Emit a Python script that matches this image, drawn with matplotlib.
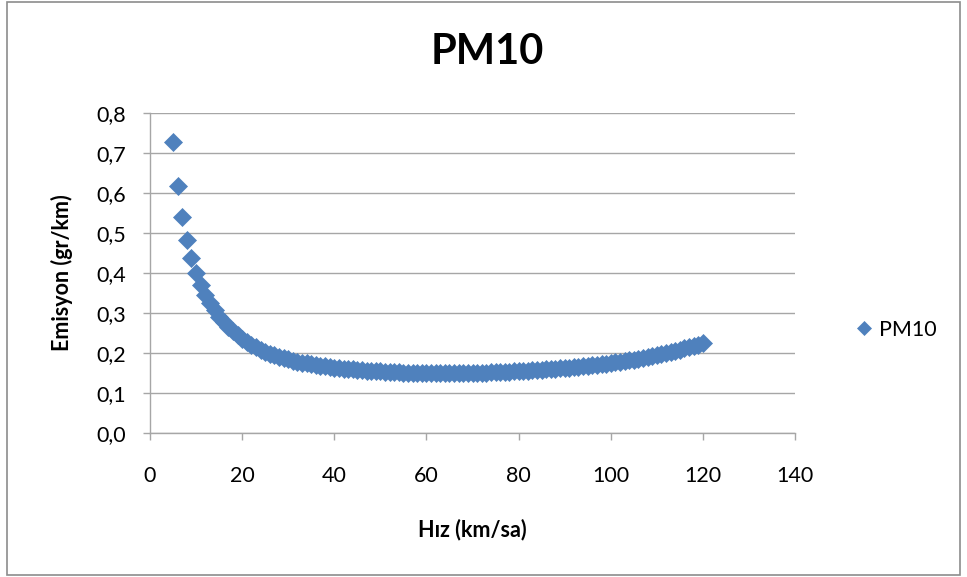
"""PM10 emisyonu - hız grafiği (Excel tarzı dağılım grafiği).

Run:
    python plot.py
"""

import matplotlib

matplotlib.use("Agg")
import matplotlib.pyplot as plt
from matplotlib.patches import Rectangle
from matplotlib.ticker import FuncFormatter, MultipleLocator

plt.rcParams["font.family"] = ["Lato", "DejaVu Sans"]

# Hız (km/sa), 5 ... 120 km/sa, 1 km/sa adım.
speed = list(range(5, 121))

# PM10 emisyonu (gr/km).
emission = [
    0.7280, 0.6187, 0.5406, 0.4820, 0.4364, 0.4000, 0.3702, 0.3453,
    0.3243, 0.3063, 0.2907, 0.2770, 0.2649, 0.2542, 0.2446, 0.2360,
    0.2282, 0.2211, 0.2146, 0.2087, 0.2032, 0.1987, 0.1945, 0.1906,
    0.1871, 0.1838, 0.1810, 0.1784, 0.1760, 0.1738, 0.1717, 0.1698,
    0.1680, 0.1664, 0.1649, 0.1635, 0.1622, 0.1610, 0.1599, 0.1588,
    0.1579, 0.1570, 0.1562, 0.1554, 0.1547, 0.1541, 0.1534, 0.1528,
    0.1522, 0.1516, 0.1511, 0.1508, 0.1504, 0.1502, 0.1499, 0.1497,
    0.1496, 0.1495, 0.1495, 0.1495, 0.1495, 0.1495, 0.1496, 0.1496,
    0.1497, 0.1499, 0.1502, 0.1506, 0.1509, 0.1513, 0.1517, 0.1523,
    0.1528, 0.1534, 0.1539, 0.1545, 0.1552, 0.1559, 0.1566, 0.1573,
    0.1581, 0.1589, 0.1598, 0.1607, 0.1616, 0.1624, 0.1635, 0.1647,
    0.1658, 0.1669, 0.1680, 0.1694, 0.1707, 0.1721, 0.1734, 0.1748,
    0.1765, 0.1782, 0.1798, 0.1815, 0.1832, 0.1855, 0.1879, 0.1902,
    0.1925, 0.1948, 0.1975, 0.2003, 0.2030, 0.2058, 0.2085, 0.2117,
    0.2148, 0.2180, 0.2212, 0.2243,
]

series_name = "PM10"
x_label = "Hız (km/sa)"
y_label = "Emisyon (gr/km)"

BLUE = "#4F81BD"
GRID = "#A6A6A6"

fig = plt.figure(figsize=(9.67, 5.77), dpi=100)
ax = fig.add_axes([150 / 967, 1 - 433 / 577, 645 / 967, 320 / 577])

ax.plot(
    speed,
    emission,
    linestyle="none",
    marker="D",
    markersize=9.5,
    markerfacecolor=BLUE,
    markeredgecolor=BLUE,
    markeredgewidth=0.5,
    label=series_name,
    zorder=3,
)

ax.set_xlim(0, 140)
ax.set_ylim(0, 0.8)
ax.xaxis.set_major_locator(MultipleLocator(20))
ax.yaxis.set_major_locator(MultipleLocator(0.1))
ax.yaxis.set_major_formatter(
    FuncFormatter(lambda v, pos: f"{v:.1f}".replace(".", ","))
)

ax.grid(axis="y", color=GRID, linewidth=1.0)
ax.set_axisbelow(True)
for side in ["top", "right"]:
    ax.spines[side].set_visible(False)
for side in ["left", "bottom"]:
    ax.spines[side].set_color(GRID)
    ax.spines[side].set_linewidth(1.0)

ax.tick_params(
    axis="both",
    direction="out",
    length=5,
    width=1.0,
    color=GRID,
    labelsize=15.5,
    labelcolor="black",
)
ax.tick_params(axis="y", pad=12)
ax.tick_params(axis="x", pad=19)

fig.text(
    487 / 967, 1 - 52 / 577, series_name,
    ha="center", va="center", fontsize=30, fontweight="bold",
)
fig.text(
    472 / 967, 1 - 530 / 577, x_label,
    ha="center", va="center", fontsize=15.5, fontweight="bold",
)
fig.text(
    62 / 967, 1 - 273 / 577, y_label,
    ha="center", va="center", rotation=90,
    fontsize=15.5, fontweight="bold",
)

fig.legend(
    loc="center left",
    bbox_to_anchor=(836 / 967, 1 - 330 / 577),
    frameon=False,
    numpoints=1,
    markerscale=0.75,
    handlelength=0.8,
    handletextpad=0.3,
    fontsize=15.5,
)

# Excel grafik alanı çerçevesi.
fig.patches.append(
    Rectangle(
        (7 / 967, 2 / 577),
        953 / 967,
        573 / 577,
        transform=fig.transFigure,
        fill=False,
        edgecolor="#8C8C8C",
        linewidth=1.2,
    )
)

fig.savefig("out.png", dpi=100)
plt.close(fig)
